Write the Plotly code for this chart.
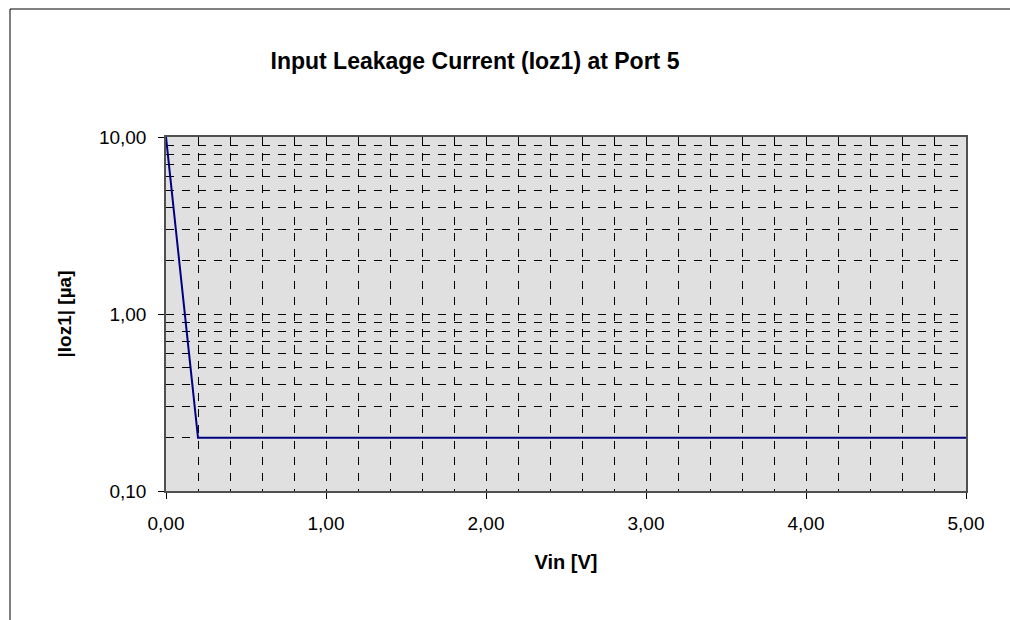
import plotly.graph_objects as go

vin = [0.0, 0.2, 0.4, 0.6, 0.8, 1.0, 1.2, 1.4, 1.6, 1.8, 2.0, 2.2, 2.4, 2.6, 2.8,
       3.0, 3.2, 3.4, 3.6, 3.8, 4.0, 4.2, 4.4, 4.6, 4.8, 5.0]
ioz = [10.0, 0.2, 0.2, 0.2, 0.2, 0.2, 0.2, 0.2, 0.2, 0.2, 0.2, 0.2, 0.2, 0.2, 0.2,
       0.2, 0.2, 0.2, 0.2, 0.2, 0.2, 0.2, 0.2, 0.2, 0.2, 0.2]

x_tickvals = [0, 1, 2, 3, 4, 5]
x_ticktext = ["0,00", "1,00", "2,00", "3,00", "4,00", "5,00"]
y_tickvals = [0.1, 1, 10]
y_ticktext = ["0,10", "1,00", "10,00"]
y_minor = [0.2, 0.3, 0.4, 0.5, 0.6, 0.7, 0.8, 0.9, 2, 3, 4, 5, 6, 7, 8, 9]

FONT = "Liberation Sans, Arial, sans-serif"
W, H = 1010, 620
L, R, T, B = 166, 44, 137, 129
pw, ph = W - L - R, H - T - B

fig = go.Figure()
fig.add_trace(go.Scatter(x=vin, y=ioz, mode="lines",
                         line=dict(color="#000080", width=2), showlegend=False))

grid = dict(gridcolor="black", gridwidth=1, griddash="8px,8px")

fig.update_xaxes(range=[0, 5], tickvals=x_tickvals, ticktext=x_ticktext,
                 ticks="outside", ticklen=6, tickcolor="black", tickwidth=1,
                 ticklabelstandoff=8,
                 showline=True, linecolor="#505050", linewidth=1.5, mirror=True,
                 showgrid=True, **grid,
                 minor=dict(dtick=0.2, showgrid=True, gridcolor="black",
                            gridwidth=1, griddash="8px,8px", ticks=""),
                 tickfont=dict(family=FONT, size=19, color="black"),
                 title=dict(text="<b>Vin [V]</b>", standoff=22,
                            font=dict(family=FONT, size=20, color="black")),
                 zeroline=False)
fig.update_yaxes(type="log", range=[-1, 1], tickvals=y_tickvals, ticktext=y_ticktext,
                 ticks="outside", ticklen=6, tickcolor="black", tickwidth=1,
                 ticklabelstandoff=8,
                 showline=True, linecolor="#505050", linewidth=1.5, mirror=True,
                 showgrid=True, **grid,
                 minor=dict(tickvals=y_minor, showgrid=True, gridcolor="black",
                            gridwidth=1, griddash="8px,8px", ticks=""),
                 tickfont=dict(family=FONT, size=19, color="black"),
                 title=dict(text="<b>|Ioz1| [µa]</b>", standoff=22,
                            font=dict(family=FONT, size=19, color="black")),
                 zeroline=False)

# outer chart border (top and left edges)
def px_x(p):
    return (p - L) / pw

def px_y(p):
    return (H - B - p) / ph

fig.add_shape(type="line", xref="paper", yref="paper",
              x0=px_x(10), x1=px_x(1010), y0=px_y(9), y1=px_y(9),
              line=dict(color="black", width=1))
fig.add_shape(type="line", xref="paper", yref="paper",
              x0=px_x(10), x1=px_x(10), y0=px_y(9), y1=px_y(620),
              line=dict(color="black", width=1))

fig.update_layout(
    width=W, height=H,
    margin=dict(l=L, r=R, t=T, b=B),
    paper_bgcolor="white", plot_bgcolor="#e0e0e0",
    title=dict(text="<b>Input Leakage Current (Ioz1) at Port 5</b>",
               x=475 / W, xanchor="center", y=1 - 61 / H, yanchor="middle",
               font=dict(family=FONT, size=23, color="black")),
)

fig.write_html("out.html", config={"displayModeBar": False},
               post_script="document.body.style.margin='0';")
